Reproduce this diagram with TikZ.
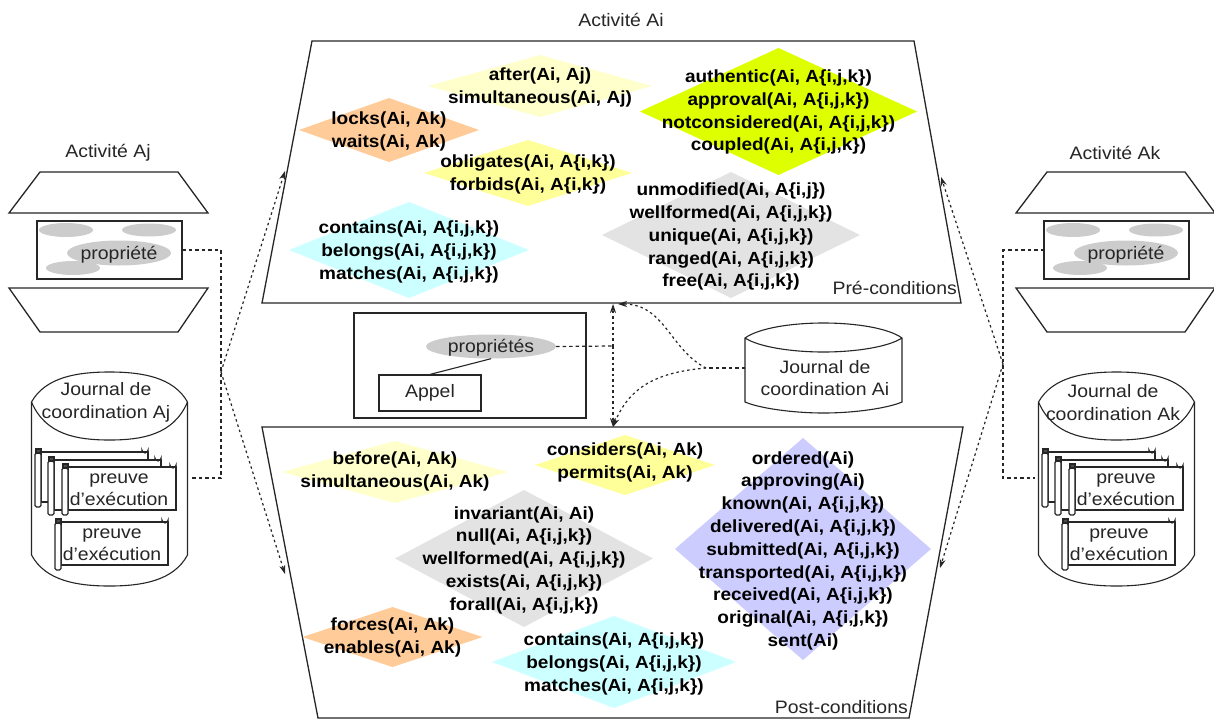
\documentclass[tikz,border=0pt]{standalone}
\usepackage{fontspec}
\setmainfont[FakeStretch=1.08]{Liberation Sans}
\usetikzlibrary{shapes.geometric,arrows.meta}
\definecolor{cYelL}{HTML}{FFFFCC}
\definecolor{cYel}{HTML}{FFFF99}
\definecolor{cLime}{HTML}{DDFF00}
\definecolor{cOra}{HTML}{FFCC99}
\definecolor{cCya}{HTML}{CCFFFF}
\definecolor{cGre}{HTML}{E3E3E3}
\definecolor{cPur}{HTML}{CCCCFF}
\definecolor{cOval}{HTML}{CCCCCC}
\tikzset{
  x=1pt,y=-1pt,
  dia/.style={shape=diamond,inner sep=0pt,outer sep=0pt,draw=none},
  lbl/.style={inner sep=0pt,align=center,yshift=-1.7pt,font=\fontsize{17.6}{22.8}\selectfont\bfseries},
  txt/.style={inner sep=0pt,align=center,font=\fontsize{18}{22.4}\selectfont,text=black!85},
  stack/.style={txt,yshift=-1.5pt},
  edge/.style={draw=black!85,line width=1.3pt,line join=miter},
  thin edge/.style={draw=black!85,line width=1.1pt},
  oval/.style={shape=ellipse,fill=cOval,draw=none,inner sep=0pt},
  dashline/.style={draw=black!85,line width=1.2pt,dash pattern=on 3.5pt off 3pt},
  dotline/.style={draw=black!85,line width=1.2pt,dash pattern=on 2.5pt off 3pt},
  arr/.style={-{Stealth[length=9pt,width=6pt]}}
}
\newcommand{\diamt}[8]{% name,x,y,hw,hh,colour,tdy,text
  \node[dia,fill=#6,minimum width=#4*2pt,minimum height=#5*2pt] (d#1) at (#2,#3) {};
  \node[lbl] (t#1) at (#2,#3+#7) {#8}; }
\newcommand{\scrollshape}[4]{% x,y,w,h
  \filldraw[thin edge,fill=white] (#1+6,#2) rectangle (#1+#3,#2+#4);
  \filldraw[thin edge,fill=white] (#1+#3-6,#2) -- ++(0,-2) arc[start angle=180,end angle=0,radius=3] -- ++(0,2) -- cycle;
  \filldraw[thin edge,fill=white,rounded corners=1.5pt] (#1,#2+1) rectangle (#1+6,#2+#4+5);
  \filldraw[thin edge,fill=black!70] (#1+1,#2-3) rectangle +(5,4);
}
\newcommand{\cylshape}[7]{% cx, rx, ytop, yside, yend, ybottom, yellipsebottom
  \filldraw[thin edge,fill=white] (#1-#2,#4) .. controls (#1-#2+14,#3+5) and (#1-32,#3) .. (#1,#3)
     .. controls (#1+32,#3) and (#1+#2-14,#3+5) .. (#1+#2,#4)
     -- (#1+#2,#5) .. controls (#1+#2-14,#6-5) and (#1+32,#6) .. (#1,#6)
     .. controls (#1-32,#6) and (#1-#2+14,#6-5) .. (#1-#2,#5) -- cycle;
  \draw[thin edge] (#1-#2,#4) .. controls (#1-#2+14,#7-5) and (#1-32,#7) .. (#1,#7)
     .. controls (#1+32,#7) and (#1+#2-14,#7-5) .. (#1+#2,#4);
}
\newcommand{\sidegroup}[2]{% dx, suffix letter
  \begin{scope}[xshift=#1pt]
  \draw[edge] (40,172)--(178,172)--(208,213)--(9,213)--cycle;
  \draw[edge] (9,288)--(208,288)--(178,332)--(40,332)--cycle;
  \draw[edge] (37,221) rectangle (182,279);
  \node[oval,minimum width=54pt,minimum height=14pt] (ova#2) at (66,230) {};
  \node[oval,minimum width=54pt,minimum height=13pt] (ovb#2) at (149,230) {};
  \node[oval,minimum width=104pt,minimum height=25pt] (ovc#2) at (119,253) {};
  \node[oval,minimum width=54pt,minimum height=14pt] (ovd#2) at (73,268) {};
  \node[txt] (prop#2) at (119,255) {propriété};
  \node[txt] (act#2) at (108,153) {Activité A#2};
  \cylshape{109.5}{78}{372}{402}{555}{586}{440}
  \node[stack] (jr#2) at (106,401) {Journal de\\coordination A#2};
  \scrollshape{35}{452}{113}{50}
  \scrollshape{48}{460}{113}{50}
  \scrollshape{62}{467}{114}{43}
  \node[stack] (pa#2) at (119,488.5) {preuve\\d'exécution};
  \scrollshape{55}{522}{113}{43}
  \node[stack] (pb#2) at (112,543) {preuve\\d'exécution};
  \end{scope}
}
\begin{document}
\begin{tikzpicture}
\useasboundingbox[fill=white] (0,0) rectangle (1214,720);
% main panels
\draw[edge] (312,41)--(914,41)--(961,303)--(262,303)--cycle;
\draw[edge] (262,427)--(963,427)--(909,718)--(318,718)--cycle;
\node[txt] (actAi) at (621,20) {Activité Ai};
\node[txt,anchor=east] (pre) at (957,288) {Pré-conditions};
\node[txt,anchor=east] (post) at (908,707) {Post-conditions};
% diamonds
\diamt{a}{540}{86}{112}{31}{cYelL}{0}{after(Ai, Aj)\\simultaneous(Ai, Aj)}
\diamt{b}{778.5}{111.5}{138.5}{63.5}{cLime}{-1}{authentic(Ai, A\{i,j,k\})\\approval(Ai, A\{i,j,k\})\\notconsidered(Ai, A\{i,j,k\})\\coupled(Ai, A\{i,j,k\})}
\diamt{c}{389}{130}{90}{32}{cOra}{0}{locks(Ai, Ak)\\waits(Ai, Ak)}
\diamt{e}{528}{173}{104}{33}{cYel}{0}{obligates(Ai, A\{i,k\})\\forbids(Ai, A\{i,k\})}
\diamt{f}{731}{235}{129}{63}{cGre}{0}{unmodified(Ai, A\{i,j\})\\wellformed(Ai, A\{i,j,k\})\\unique(Ai, A\{i,j,k\})\\ranged(Ai, A\{i,j,k\})\\free(Ai, A\{i,j,k\})}
\diamt{g}{409}{250}{120}{48}{cCya}{0}{contains(Ai, A\{i,j,k\})\\belongs(Ai, A\{i,j,k\})\\matches(Ai, A\{i,j,k\})}
\diamt{h}{395}{472}{113}{31}{cYelL}{-2}{before(Ai, Ak)\\simultaneous(Ai, Ak)}
\diamt{i}{625}{465}{90}{30}{cYel}{-4}{considers(Ai, Ak)\\permits(Ai, Ak)}
\diamt{j}{803}{549}{128}{111}{cPur}{0}{ordered(Ai)\\approving(Ai)\\known(Ai, A\{i,j,k\})\\delivered(Ai, A\{i,j,k\})\\submitted(Ai, A\{i,j,k\})\\transported(Ai, A\{i,j,k\})\\received(Ai, A\{i,j,k\})\\original(Ai, A\{i,j,k\})\\sent(Ai)}
\diamt{k}{524}{558.5}{129}{68.5}{cGre}{0}{invariant(Ai, Ai)\\null(Ai, A\{i,j,k\})\\wellformed(Ai, A\{i,j,k\})\\exists(Ai, A\{i,j,k\})\\forall(Ai, A\{i,j,k\})}
\diamt{l}{392.5}{637}{90}{30}{cOra}{-1}{forces(Ai, Ak)\\enables(Ai, Ak)}
\diamt{m}{614}{662}{122}{46}{cCya}{0}{contains(Ai, A\{i,j,k\})\\belongs(Ai, A\{i,j,k\})\\matches(Ai, A\{i,j,k\})}
% centre band
\draw[edge] (354,313) rectangle (586,418);
\node[oval,minimum width=130pt,minimum height=24pt] (pties) at (491,346.5) {};
\node[txt] (ptiest) at (491,347.5) {propriétés};
\node[draw=black!85,line width=1.2pt,minimum width=102pt,minimum height=36pt,inner sep=0pt,font=\fontsize{18}{20}\selectfont,text=black!85] (appel) at (430,393) {Appel};
\draw[thin edge] (pties.south) -- (appel.north);
\cylshape{823.5}{78.5}{323}{338}{402}{413}{352}
\node[stack] (jrAi) at (825,376.5) {Journal de\\coordination Ai};
% side groups
\sidegroup{0}{j}
\sidegroup{1007}{k}
% connectors
\coordinate (hubC) at (613,346);
\coordinate (preT) at (613,304);
\coordinate (preU) at (618,304);
\coordinate (postT) at (613,427);
\coordinate (jrW) at (745,368);
\coordinate (jrM) at (706,368);
\coordinate (hubL) at (221,372);
\coordinate (hubR) at (1003,364);
\coordinate (preL) at (285,171);
\coordinate (postL) at (285,574);
\coordinate (preR) at (941,177);
\coordinate (postR) at (940,568);
\coordinate (dashLa) at (182,250);
\coordinate (dashLb) at (191,478);
\coordinate (dashRa) at (1044,250);
\coordinate (dashRb) at (1035,478);
\draw[dashline] (pties.east) -- (hubC);
\draw[dotline,arr] (hubC) -- (preT);
\draw[dotline,arr] (hubC) -- (postT);
\draw[dashline] (jrW) -- (jrM);
\draw[dotline,arr] (jrM) .. controls (670,350) and (665,304) .. (preU);
\draw[dotline,arr] (jrM) .. controls (660,372) and (630,385) .. (postT);
\draw[dashline] (dashLa) -| (hubL) |- (dashLb);
\draw[dashline] (dashRa) -| (hubR) |- (dashRb);
\draw[dotline,arr] (hubL) -- (preL);
\draw[dotline,arr] (hubL) -- (postL);
\draw[dotline,arr] (hubR) -- (preR);
\draw[dotline,arr] (hubR) -- (postR);
\end{tikzpicture}
\end{document}
